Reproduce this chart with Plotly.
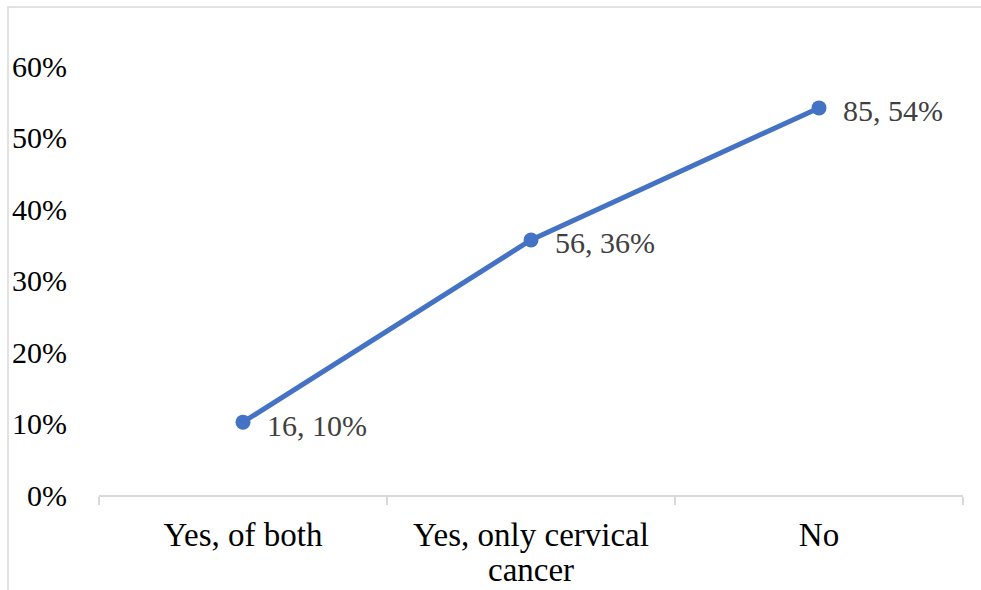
import plotly.graph_objects as go

# Survey responses: counts per answer and their share of all respondents
categories = ["Yes, of both", "Yes, only cervical cancer", "No"]
tick_lines = [["Yes, of both"], ["Yes, only cervical", "cancer"], ["No"]]
counts = [16, 56, 85]
total = sum(counts)
shares = [c / total for c in counts]

W, H = 981, 590
ML, MR, MT, MB = 99, 18, 30, 95
FONT = "Liberation Serif, Times New Roman, serif"
BLUE = "#4472C4"
GRID = "#d9d9d9"
plot_h = H - MT - MB
plot_w = W - ML - MR

fig = go.Figure()
fig.add_trace(go.Scatter(
    x=categories, y=shares, mode="lines+markers",
    line=dict(color=BLUE, width=5),
    marker=dict(color=BLUE, size=15),
    hoverinfo="skip", showlegend=False,
))

# Value labels to the right of each point
for cat, n, s in zip(categories, counts, shares):
    fig.add_annotation(
        x=cat, y=s, text=f"{n}, {s:.0%}", showarrow=False,
        xanchor="left", yanchor="middle", xshift=22, yshift=-3,
        font=dict(family=FONT, size=30, color="#404040"),
    )

# Wrapped continuation lines of the category labels (tight line spacing)
for cat, lines in zip(categories, tick_lines):
    for k, extra in enumerate(lines[1:], start=1):
        fig.add_annotation(
            x=cat, xref="x", yref="paper",
            y=(H - MB - (550 + 36 * (k - 1))) / plot_h,
            text=extra, showarrow=False, xanchor="center", yanchor="top",
            font=dict(family=FONT, size=33, color="black"),
        )

# Outer light frame around the chart
fig.add_shape(
    type="rect", xref="paper", yref="paper",
    x0=(8 - ML) / plot_w, x1=2.0,
    y0=-2.0, y1=(H - MB - 7) / plot_h,
    line=dict(color=GRID, width=1.5), fillcolor="rgba(0,0,0,0)",
)

fig.update_layout(
    width=W, height=H,
    margin=dict(l=ML, r=MR, t=MT, b=MB),
    plot_bgcolor="white", paper_bgcolor="white",
    font=dict(family=FONT, size=30, color="black"),
    xaxis=dict(
        type="category", tickson="boundaries",
        tickmode="array", tickvals=categories,
        ticktext=[lines[0] for lines in tick_lines],
        showline=True, linecolor=GRID, linewidth=1.5,
        ticks="outside", ticklen=8, tickcolor=GRID, tickwidth=1.5,
        ticklabelstandoff=10,
        showgrid=False, zeroline=False,
        tickfont=dict(family=FONT, size=33, color="black"),
        range=[-0.5, 2.5],
    ),
    yaxis=dict(
        range=[0, 0.6 * (H - MB - MT) / (H - MB - 66)],
        tickvals=[0, 0.1, 0.2, 0.3, 0.4, 0.5, 0.6],
        tickformat=".0%",
        showgrid=False, zeroline=False, showline=False,
        ticks="", ticklabelstandoff=31,
        tickfont=dict(family=FONT, size=30, color="black"),
    ),
)

fig.write_html("out.html")
